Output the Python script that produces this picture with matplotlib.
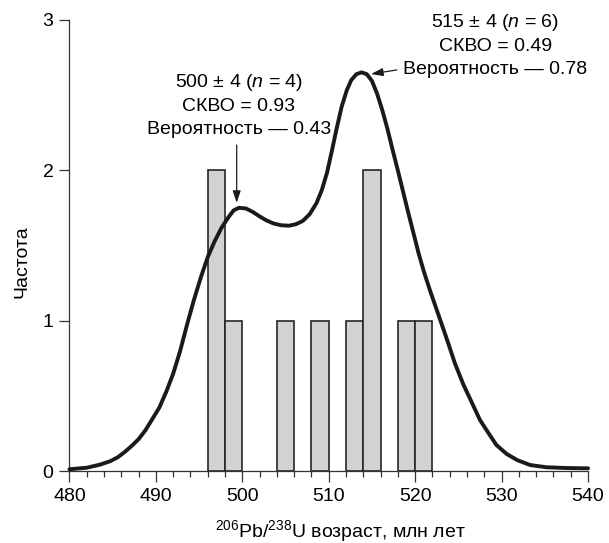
import matplotlib
matplotlib.use('Agg')
import matplotlib.pyplot as plt

plt.rcParams['font.family'] = ['Liberation Sans', 'DejaVu Sans']
plt.rcParams['mathtext.fontset'] = 'custom'
plt.rcParams['mathtext.rm'] = 'Liberation Sans'
plt.rcParams['mathtext.it'] = 'Liberation Sans:italic'
plt.rcParams['mathtext.default'] = 'regular'

# histogram of 206Pb/238U ages (2 Ma bins)
bin_left = [496, 498, 504, 508, 512, 514, 518, 520]
bin_count = [2, 1, 1, 1, 1, 2, 1, 1]
bin_width = 2

# relative probability curve
curve_age = [480.0, 482.0, 483.5, 484.7, 485.6, 486.4, 487.2, 488.0, 488.8,
             489.6, 490.4, 491.2, 492.0, 492.8, 493.6, 494.4, 495.2, 496.0,
             496.8, 497.6, 498.4, 499.0, 499.6, 500.4, 501.2, 502.0, 502.8,
             503.6, 504.5, 505.4, 506.2, 507.0, 507.8, 508.6, 509.2, 509.8,
             510.4, 510.9, 511.5, 512.1, 512.6, 513.2, 513.8, 514.4, 515.0,
             515.6, 516.2, 516.8, 517.4, 518.0, 518.6, 519.2, 519.8, 520.4,
             521.0, 521.7, 522.7, 523.7, 524.6, 525.6, 526.6, 527.5, 528.5,
             529.4, 530.6, 531.8, 533.3, 535.2, 537.5, 540.0]
curve_prob = [0.015, 0.025, 0.045, 0.068, 0.095, 0.13, 0.17, 0.215, 0.275,
              0.35, 0.425, 0.53, 0.65, 0.80, 0.975, 1.14, 1.29, 1.425,
              1.53, 1.62, 1.69, 1.735, 1.752, 1.748, 1.725, 1.695, 1.668,
              1.648, 1.636, 1.633, 1.643, 1.665, 1.71, 1.785, 1.87, 1.985,
              2.14, 2.275, 2.425, 2.535, 2.60, 2.64, 2.652, 2.64, 2.595,
              2.51, 2.40, 2.275, 2.135, 2.0, 1.86, 1.72, 1.585, 1.45,
              1.33, 1.206, 1.04, 0.874, 0.719, 0.575, 0.453, 0.342, 0.254,
              0.176, 0.116, 0.076, 0.043, 0.028, 0.023, 0.021]

fig = plt.figure(figsize=(6.09, 5.43), dpi=100)
ax = fig.add_axes([0.1141, 0.1317, 0.8514, 0.8315])

ax.bar(bin_left, bin_count, width=bin_width, align='edge',
       color='#d1d2d4', edgecolor='#262626', linewidth=1.2, zorder=2)
ax.plot(curve_age, curve_prob, color='#1a1a1a', lw=2.8,
        solid_joinstyle='round', solid_capstyle='round', clip_on=False, zorder=3)

ax.set_xlim(480, 540)
ax.set_ylim(0, 3)
for s in ['top', 'right']:
    ax.spines[s].set_visible(False)
for s in ['left', 'bottom']:
    ax.spines[s].set_color('#333333')
    ax.spines[s].set_linewidth(0.9)

ax.set_xticks(range(480, 541, 10))
ax.set_xticks(range(480, 541, 2), minor=True)
ax.set_yticks([0, 1, 2, 3])
ax.tick_params(axis='x', which='major', length=8, width=0.9, color='#333333',
               labelsize=14, pad=4)
ax.tick_params(axis='x', which='minor', length=4, width=0.9, color='#333333')
ax.tick_params(axis='y', which='major', length=7.5, width=0.9, color='#333333',
               labelsize=14, pad=4)

ax.set_xlabel(r'$^{206}$Pb/$^{238}$U возраст, млн лет', fontsize=14)
ax.xaxis.set_label_coords(0.5217, -0.104)
ax.set_ylabel('Частота', fontsize=14)
ax.yaxis.set_label_coords(-0.075, 0.464)

# group annotations
ax.text(499.6, 2.583, r'500 ± 4 ($\mathit{n}$ = 4)', ha='center', va='center', fontsize=14)
ax.text(499.6, 2.424, 'СКВО = 0.93', ha='center', va='center', fontsize=14)
ax.text(499.6, 2.269, 'Вероятность — 0.43', ha='center', va='center', fontsize=14)
ax.annotate('', xy=(499.35, 1.785), xytext=(499.35, 2.169),
            arrowprops=dict(arrowstyle='-|>,head_length=0.6,head_width=0.2',
                            color='#1a1a1a', lw=0.9, mutation_scale=12,
                            shrinkA=0, shrinkB=0))

ax.text(529.25, 2.982, r'515 ± 4 ($\mathit{n}$ = 6)', ha='center', va='center', fontsize=14)
ax.text(529.25, 2.823, 'СКВО = 0.49', ha='center', va='center', fontsize=14)
ax.text(529.25, 2.668, 'Вероятность — 0.78', ha='center', va='center', fontsize=14)
ax.annotate('', xy=(514.9, 2.641), xytext=(517.87, 2.668),
            arrowprops=dict(arrowstyle='-|>,head_length=0.6,head_width=0.2',
                            color='#1a1a1a', lw=0.9, mutation_scale=12,
                            shrinkA=0, shrinkB=0))

fig.savefig('out.png', dpi=100)
